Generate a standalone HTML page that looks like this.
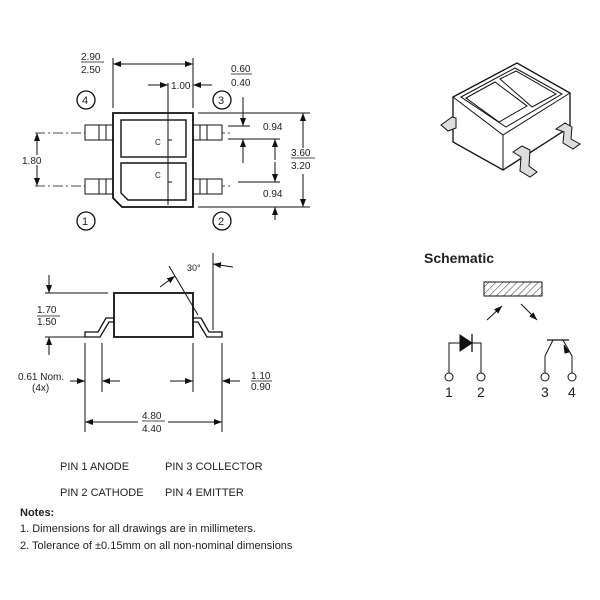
<!DOCTYPE html>
<html><head><meta charset="utf-8"><style>
html,body{margin:0;padding:0;background:#fff;width:600px;height:600px;overflow:hidden}
svg text{font-family:"Liberation Sans",Arial,sans-serif;fill:#222}
</style></head><body>
<svg width="600" height="600" viewBox="0 0 600 600" xmlns="http://www.w3.org/2000/svg">
<defs>
<marker id="a" markerWidth="8" markerHeight="6" refX="8" refY="3" orient="auto" markerUnits="userSpaceOnUse"><path d="M0,0 L8,3 L0,6z" fill="#111"/></marker>
<pattern id="h" width="5" height="5" patternUnits="userSpaceOnUse" patternTransform="rotate(45)"><line x1="0" y1="0" x2="0" y2="5" stroke="#333" stroke-width="1"/></pattern>
</defs>
<g stroke="#111" fill="none" stroke-width="1">
<line x1="35" y1="133" x2="232" y2="133" stroke-dasharray="10,3,2,3" stroke-width="0.8"/>
<line x1="35" y1="186" x2="232" y2="186" stroke-dasharray="10,3,2,3" stroke-width="0.8"/>
<rect x="85" y="125" width="28" height="15" fill="#fff"/><line x1="99" y1="125" x2="99" y2="140"/><line x1="106" y1="125" x2="106" y2="140"/>
<rect x="85" y="179" width="28" height="15" fill="#fff"/><line x1="99" y1="179" x2="99" y2="194"/><line x1="106" y1="179" x2="106" y2="194"/>
<rect x="193" y="125" width="29" height="15" fill="#fff"/><line x1="200" y1="125" x2="200" y2="140"/><line x1="207" y1="125" x2="207" y2="140"/>
<rect x="193" y="179" width="29" height="15" fill="#fff"/><line x1="200" y1="179" x2="200" y2="194"/><line x1="207" y1="179" x2="207" y2="194"/>
<path d="M113,113 H193 V207 H122 L113,198 Z" stroke-width="1.8" fill="#fff"/>
<rect x="121" y="120" width="65" height="37" stroke-width="1.4"/>
<path d="M121,163 H186 V200 H128 L121,193 Z" stroke-width="1.4"/>
<line x1="168" y1="83" x2="168" y2="205"/>
<line x1="168" y1="140" x2="172" y2="140"/><line x1="168" y1="182" x2="172" y2="182"/>
<circle cx="86" cy="100" r="9" stroke-width="1.3"/><circle cx="222" cy="100" r="9" stroke-width="1.3"/>
<circle cx="86" cy="221" r="9" stroke-width="1.3"/><circle cx="222" cy="221" r="9" stroke-width="1.3"/>
<line x1="113" y1="58" x2="113" y2="108"/><line x1="193" y1="58" x2="193" y2="108"/>
<line x1="150" y1="64" x2="113" y2="64" marker-end="url(#a)"/><line x1="150" y1="64" x2="193" y2="64" marker-end="url(#a)"/>
<line x1="148" y1="85" x2="168" y2="85" marker-end="url(#a)"/><line x1="212" y1="85" x2="193" y2="85" marker-end="url(#a)"/>
<line x1="198" y1="113" x2="310" y2="113"/><line x1="198" y1="207" x2="310" y2="207"/>
<line x1="303" y1="148" x2="303" y2="113" marker-end="url(#a)"/><line x1="303" y1="174" x2="303" y2="207" marker-end="url(#a)"/>
<line x1="243" y1="97" x2="243" y2="126" marker-end="url(#a)"/><line x1="243" y1="163" x2="243" y2="139" marker-end="url(#a)"/>
<line x1="228" y1="126" x2="250" y2="126"/><line x1="228" y1="139" x2="280" y2="139"/>
<line x1="275" y1="160" x2="275" y2="139" marker-end="url(#a)"/>
<line x1="275" y1="162" x2="275" y2="182" marker-end="url(#a)"/>
<line x1="238" y1="182" x2="280" y2="182"/>
<line x1="275" y1="220" x2="275" y2="207" marker-end="url(#a)"/>
<line x1="37" y1="155" x2="37" y2="133" marker-end="url(#a)"/><line x1="37" y1="165" x2="37" y2="186" marker-end="url(#a)"/>
<path d="M85,337 V332 H98 L106,318 H114 V322 H109 L100,337 Z" fill="#fff" stroke-width="1.3"/>
<path d="M222,337 V332 H209 L201,318 H193 V322 H198 L207,337 Z" fill="#fff" stroke-width="1.3"/>
<rect x="114" y="293" width="79" height="44" stroke-width="1.8" fill="#fff"/>
<line x1="45" y1="293" x2="108" y2="293"/><line x1="45" y1="337" x2="85" y2="337"/>
<line x1="49" y1="275" x2="49" y2="293" marker-end="url(#a)"/><line x1="49" y1="355" x2="49" y2="337" marker-end="url(#a)"/>
<line x1="169" y1="266" x2="198" y2="315"/><line x1="160" y1="287" x2="175" y2="276" marker-end="url(#a)"/>
<line x1="213" y1="253" x2="213" y2="330"/><line x1="233" y1="267" x2="213" y2="264" marker-end="url(#a)"/>
<line x1="85" y1="343" x2="85" y2="432"/><line x1="102" y1="343" x2="102" y2="392"/>
<line x1="193" y1="343" x2="193" y2="392"/><line x1="222" y1="343" x2="222" y2="432"/>
<line x1="70" y1="381" x2="85" y2="381" marker-end="url(#a)"/><line x1="120" y1="381" x2="102" y2="381" marker-end="url(#a)"/>
<line x1="170" y1="381" x2="193" y2="381" marker-end="url(#a)"/><line x1="240" y1="381" x2="222" y2="381" marker-end="url(#a)"/>
<line x1="138" y1="422" x2="85" y2="422" marker-end="url(#a)"/><line x1="168" y1="422" x2="222" y2="422" marker-end="url(#a)"/>
<path d="M453,97 L517,63 L570,93 L570,127 L503,170 L453,142 Z" fill="#fff" stroke-width="1.3"/>
<path d="M453,97 L503,135 L570,93 M503,135 V170"/>
<path d="M461,97 L515,68 L562,94 L506,127 Z"/>
<path d="M466,98 L495,82 L527,106 L499,122 Z M500,79 L516,71 L556,94 L532,107 Z"/>
<path d="M441,125 L452,117 L456,118 L456,128 L448,131 Z" fill="#ddd"/>
<path d="M513,152 L522,146 L530,150 L529,166 L537,172 L530,177 L520,171 L521,157 Z" fill="#ddd"/>
<path d="M556,129 L565,123 L572,127 L571,139 L580,144 L573,149 L563,143 L564,132 Z" fill="#ddd"/>
<rect x="484" y="282" width="58" height="14" fill="url(#h)"/>
<line x1="487" y1="320" x2="502" y2="306" marker-end="url(#a)"/>
<line x1="521" y1="304" x2="537" y2="320" marker-end="url(#a)"/>
<path d="M449,373 V343 H481 V373"/>
<path d="M460,335 L472,343 L460,351 Z" fill="#111"/>
<line x1="472" y1="334" x2="472" y2="352" stroke-width="1.3"/>
<line x1="547" y1="340" x2="569" y2="340" stroke-width="1.3"/>
<path d="M553,340 L545,356 V373"/>
<path d="M563,340 L572,356 V373"/>
<path d="M564,345 L569,352 L565,353Z" fill="#111"/>
<circle cx="449" cy="377" r="4" fill="#fff"/><circle cx="481" cy="377" r="4" fill="#fff"/>
<circle cx="545" cy="377" r="4" fill="#fff"/><circle cx="572" cy="377" r="4" fill="#fff"/>
<line x1="81" y1="62" x2="104" y2="62" stroke-width="0.8"/><line x1="231" y1="74" x2="252" y2="74" stroke-width="0.8"/>
<line x1="291" y1="158" x2="315" y2="158" stroke-width="0.8"/><line x1="37" y1="316" x2="60" y2="316" stroke-width="0.8"/>
<line x1="251" y1="381" x2="272" y2="381" stroke-width="0.8"/><line x1="142" y1="421" x2="165" y2="421" stroke-width="0.8"/>
</g>
<g font-size="10">
<text x="81" y="60">2.90</text><text x="81" y="73">2.50</text>
<text x="171" y="89">1.00</text>
<text x="231" y="72">0.60</text><text x="231" y="86">0.40</text>
<text x="263" y="130">0.94</text><text x="263" y="197">0.94</text>
<text x="291" y="156">3.60</text><text x="291" y="169">3.20</text>
<text x="22" y="164">1.80</text>
<text x="82" y="104" font-size="11">4</text><text x="218" y="104" font-size="11">3</text>
<text x="82" y="225" font-size="11">1</text><text x="218" y="225" font-size="11">2</text>
<text x="155" y="145" font-size="8">C</text><text x="155" y="178" font-size="8">C</text>
<text x="37" y="313">1.70</text><text x="37" y="325">1.50</text>
<text x="187" y="271" font-size="9">30°</text>
<text x="18" y="380">0.61 Nom.</text><text x="32" y="391">(4x)</text>
<text x="251" y="379">1.10</text><text x="251" y="390">0.90</text>
<text x="142" y="419">4.80</text><text x="142" y="432">4.40</text>
</g>
<text x="424" y="263" font-size="14" font-weight="bold">Schematic</text>
<g font-size="14"><text x="445" y="397">1</text><text x="477" y="397">2</text><text x="541" y="397">3</text><text x="568" y="397">4</text></g>
<g font-size="11">
<text x="60" y="470">PIN 1  ANODE</text><text x="165" y="470">PIN 3  COLLECTOR</text>
<text x="60" y="496">PIN 2  CATHODE</text><text x="165" y="496">PIN 4  EMITTER</text>
<text x="20" y="516" font-weight="bold">Notes:</text>
<text x="20" y="532">1. Dimensions for all drawings are in millimeters.</text>
<text x="20" y="549">2. Tolerance of ±0.15mm on all non-nominal dimensions</text>
</g>
</svg>
</body></html>
